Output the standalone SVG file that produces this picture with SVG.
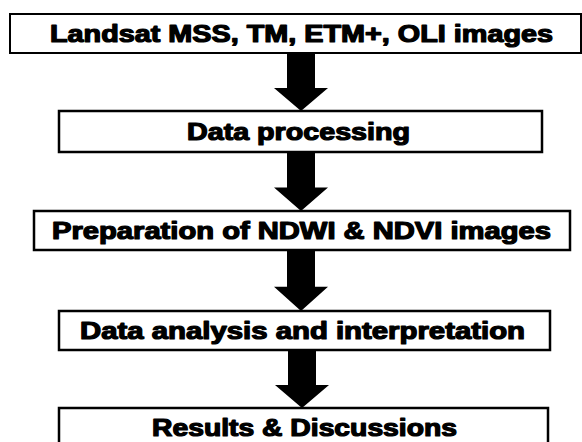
<svg xmlns="http://www.w3.org/2000/svg" width="582" height="442" viewBox="0 0 582 442">
<style>
.box{fill:#fff;stroke:#000;stroke-width:2.5}
.lbl{font-family:"Liberation Sans",Arial,sans-serif;font-weight:bold;font-size:23px;fill:#000;stroke:#000;stroke-width:1.2;stroke-linejoin:round}
.arr{fill:#000}
</style>
<defs>
<path id="arrowShape" d="M-14,0 H14 V35 H27 L0,58 L-27,35 H-14 Z"/>
</defs>
<rect width="582" height="442" fill="#fff"/>
<g id="connectors">
<use href="#arrowShape" class="arr" transform="translate(301,53)"/>
<use href="#arrowShape" class="arr" transform="translate(301,152) scale(1,1.017)"/>
<use href="#arrowShape" class="arr" transform="translate(301,250) scale(1,1.052)"/>
<use href="#arrowShape" class="arr" transform="translate(302,350)"/>
</g>
<g id="node1">
<rect class="box" x="10" y="14" width="571" height="39" style="stroke-width:2"/>
<text class="lbl" x="50" y="41.5" textLength="503" lengthAdjust="spacingAndGlyphs">Landsat MSS, TM, ETM+, OLI images</text>
</g>
<g id="node2">
<rect class="box" x="59" y="111" width="483" height="41"/>
<text class="lbl" x="187" y="140" textLength="223" lengthAdjust="spacingAndGlyphs">Data processing</text>
</g>
<g id="node3">
<rect class="box" x="34" y="211" width="536" height="39"/>
<text class="lbl" x="52" y="239" textLength="499" lengthAdjust="spacingAndGlyphs">Preparation of NDWI &amp; NDVI images</text>
</g>
<g id="node4">
<rect class="box" x="59" y="311" width="491" height="39"/>
<text class="lbl" x="80" y="339" textLength="445" lengthAdjust="spacingAndGlyphs">Data analysis and interpretation</text>
</g>
<g id="node5">
<rect class="box" x="59" y="408" width="489" height="45"/>
<text class="lbl" x="152" y="435.5" textLength="305" lengthAdjust="spacingAndGlyphs">Results &amp; Discussions</text>
</g>
</svg>
